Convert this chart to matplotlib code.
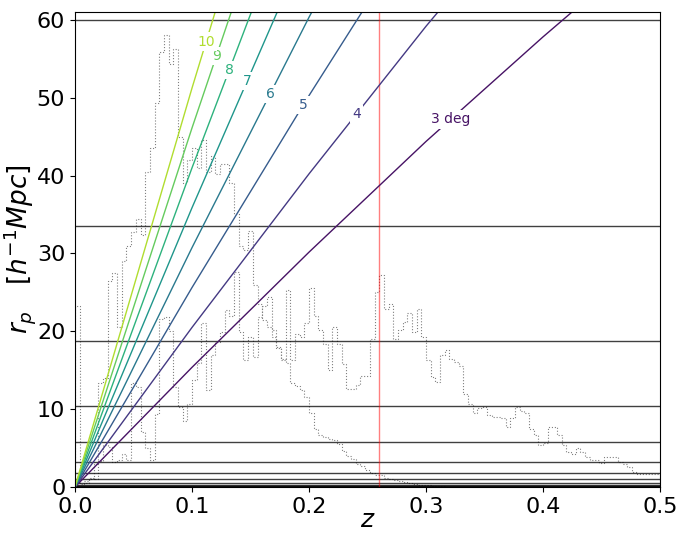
import numpy as np
import matplotlib
matplotlib.use("Agg")
import matplotlib.pyplot as plt

# comoving distance [h^-1 Mpc]
z_grid = [0.0, 0.1, 0.2, 0.3, 0.4, 0.5]
dist_c = [0.0, 293.5, 576.0, 847.5, 1104.0, 1350.0]

angles = [3, 4, 5, 6, 7, 8, 9, 10]
label_r = [47.2, 47.9, 49.1, 50.5, 52.1, 53.6, 55.3, 57.2]

# projected separation bins
rp_bins = [60.0, 33.5, 18.7, 10.45, 5.84, 3.26, 1.82, 1.02, 0.57, 0.32, 0.18, 0.10]

z_cut = 0.26

# redshift histograms, bin width 0.004 on [0, 0.5]
hist_a = [0, 0, 0.5, 1, 3, 13.3, 14, 26.5, 27.5, 20.5,
          29, 31, 32.7, 34.4, 32.3, 40.4, 43.5, 49.3, 55.8, 58.1,
          54.3, 56.2, 44.9, 39, 42, 43.5, 41, 44.5, 40.5, 42.5,
          40.2, 41.5, 41.5, 39, 35, 31, 30.4, 32.9, 26, 23.5,
          21.5, 20.5, 19.3, 18, 16.5, 15.9, 13.3, 13, 12.4, 11.5,
          9.5, 7.5, 6.7, 6.4, 6.2, 6.0, 5.5, 4.6, 4.0, 3.6,
          3.0, 2.7, 2.2, 1.8, 1.6, 1.5, 1.2, 1.0, 0.9, 0.8,
          0.6, 0.5, 0.4, 0.3, 0.3, 0.2, 0.1, 0.1, 0.1, 0.05,
          0, 0, 0, 0, 0, 0, 0, 0, 0, 0,
          0, 0, 0, 0, 0, 0, 0, 0, 0, 0,
          0, 0, 0, 0, 0, 0, 0, 0, 0, 0,
          0, 0, 0, 0, 0, 0, 0, 0, 0, 0,
          0, 0, 0, 0, 0]
hist_b = [23.3, 0.4, 0.8, 1.2, 1.0, 3.4, 5.4, 5.2, 3.2, 3.5,
          4.2, 3.5, 13.3, 12.8, 7, 5.0, 3.5, 9.4, 21.6, 21.8,
          20, 12.9, 10.3, 8.5, 10.7, 13.7, 15.9, 21, 12.4, 16.9,
          18.6, 19.9, 22.7, 22, 27.6, 19.9, 16.3, 19.3, 16.7, 21.8,
          23.3, 24.4, 20.1, 17.9, 16.3, 25.3, 16.3, 19.7, 19.3, 21,
          25.5, 22, 20.1, 18.4, 15, 20.5, 18.4, 15.8, 12.6, 12.6,
          13.1, 14.2, 14.2, 19, 25, 27.2, 22.9, 23.5, 19, 20.1,
          21.2, 22.3, 19.9, 22.9, 19.3, 16.3, 14.1, 13.5, 16.9, 17.6,
          16.5, 16.1, 15.5, 12, 10.7, 9.5, 10.1, 10.3, 9.2, 9.0,
          9.0, 8.8, 7.7, 8.8, 10.3, 9.7, 9.5, 7.5, 6.7, 5.4,
          5.6, 7.7, 7.7, 6.7, 5.4, 4.5, 4.3, 5.0, 4.5, 3.9,
          3.5, 3.5, 3.1, 3.8, 3.9, 3.9, 3.2, 3.0, 2.6, 1.9,
          1.7, 1.7, 1.7, 1.7, 1.7]
edges = np.linspace(0, 0.5, len(hist_a) + 1)

fig = plt.figure(figsize=(6.78, 5.33), dpi=100)
ax = fig.add_subplot(111)
fig.subplots_adjust(left=0.1106, right=0.9735, top=0.9775, bottom=0.0863)

ax.stairs(hist_a, edges, color="grey", ls=":", lw=0.8)
ax.stairs(hist_b, edges, color="grey", ls=":", lw=0.8)

for r in rp_bins:
    ax.axhline(r, color="k", lw=1, alpha=0.75)
ax.axvline(z_cut, color="red", lw=1, alpha=0.5)

ax.set_xlim(0, 0.5)
ax.set_ylim(0, 61)
ax.set_xticks([0.0, 0.1, 0.2, 0.3, 0.4, 0.5])
ax.set_yticks([0, 10, 20, 30, 40, 50, 60])
ax.tick_params(labelsize=16)
ax.set_xlabel(r"$z$", fontsize=18, labelpad=-6)
ax.set_ylabel(r"$r_p\ \ \ [h^{-1}Mpc]$", fontsize=19, labelpad=-1)

cmap = plt.get_cmap("viridis")
for deg, rl in zip(angles, label_r):
    col = cmap((deg - 2.6) / 8.4)
    r_line = np.array(dist_c) * np.deg2rad(deg)
    ax.plot(z_grid, r_line, color=col, lw=1.0)
    zl = np.interp(rl, r_line, z_grid)
    txt = "3 deg" if deg == 3 else str(deg)
    ax.text(zl, rl, txt, color=col, fontsize=10,
            ha="center", va="center",
            bbox=dict(fc="white", ec="none", pad=1.5))

fig.savefig("out.png", dpi=100)
